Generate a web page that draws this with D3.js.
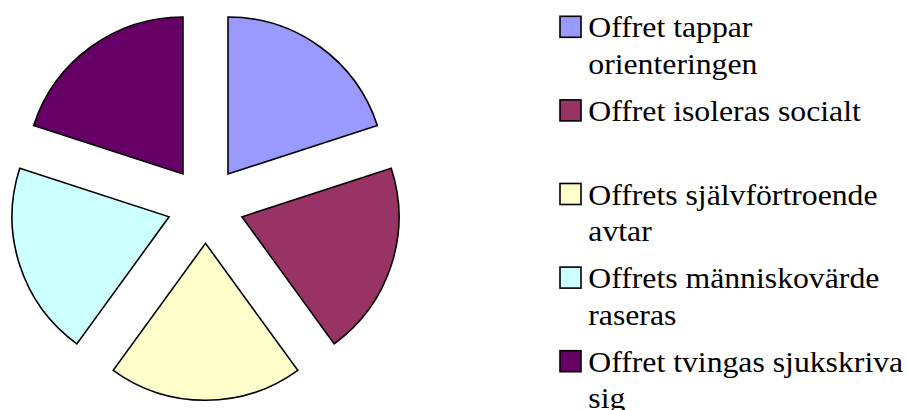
<!DOCTYPE html>
<html>
<head>
<meta charset="utf-8">
<script src="https://cdn.jsdelivr.net/npm/d3@7"></script>
<style>
  html, body { margin: 0; padding: 0; background: #fff; }
  svg { display: block; }
</style>
</head>
<body>
<svg id="chart" width="907" height="410"></svg>
<script>
const categories = [
  "Offret tappar orienteringen",
  "Offret isoleras socialt",
  "Offrets självförtroende avtar",
  "Offrets människovärde raseras",
  "Offret tvingas sjukskriva sig"
];
const legendLines = [
  ["Offret tappar", "orienteringen"],
  ["Offret isoleras socialt"],
  ["Offrets självförtroende", "avtar"],
  ["Offrets människovärde", "raseras"],
  ["Offret tvingas sjukskriva", "sig"]
];
const values = [20, 20, 20, 20, 20];
const colors = ["#9999FF", "#993366", "#FFFFCC", "#CCFFFF", "#660066"];

const svg = d3.select("#chart");
const cx = 205.5, cy = 205, radius = 157, explode = 38.3;

const data = categories.map((c, i) => ({ name: c, value: values[i], color: colors[i] }));
const pie = d3.pie().sort(null).value(d => d.value);
const arc = d3.arc().innerRadius(0).outerRadius(radius);

const g = svg.append("g").attr("transform", `translate(${cx},${cy})`);
g.selectAll("path")
  .data(pie(data))
  .join("path")
  .attr("d", arc)
  .attr("fill", d => d.data.color)
  .attr("stroke", "#000")
  .attr("stroke-width", 1.6)
  .attr("stroke-linejoin", "miter")
  .attr("transform", d => {
    const a = (d.startAngle + d.endAngle) / 2;
    return `translate(${Math.sin(a) * explode},${-Math.cos(a) * explode})`;
  });

// Legend
const legendX = 560, textX = 588.3, firstBaseline = 37.3, rowStep = 83.6, lineStep = 36.5, sw = 21;
const sx = 1.076;
const leg = svg.append("g");
data.forEach((d, i) => {
  const base = firstBaseline + rowStep * i;
  leg.append("rect")
    .attr("x", legendX).attr("y", base - sw)
    .attr("width", sw).attr("height", sw)
    .attr("fill", d.color)
    .attr("stroke", "#000").attr("stroke-width", 1.6);
  const t = leg.append("text")
    .attr("transform", `translate(${textX},${base}) scale(${sx},1)`)
    .style("font-family", '"Liberation Serif"')
    .style("font-size", "29.5px")
    .attr("fill", "#000");
  legendLines[i].forEach((line, j) => {
    t.append("tspan").attr("x", 0).attr("y", j * lineStep).text(line);
  });
});
</script>
</body>
</html>
